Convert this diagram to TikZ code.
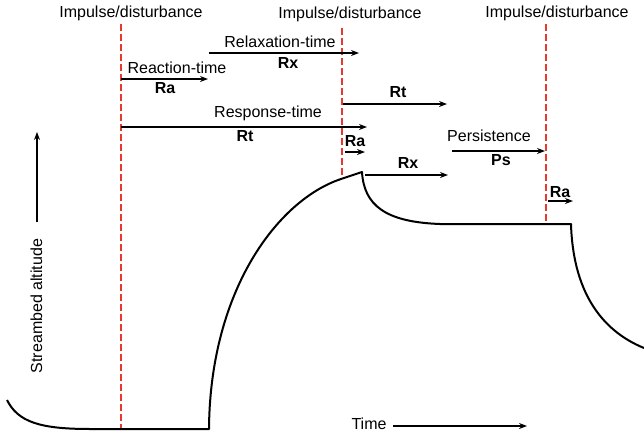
\documentclass[tikz,border=0pt]{standalone}
\usepackage{fontspec}
\setmainfont{Liberation Sans}
\usetikzlibrary{arrows.meta,positioning}
\definecolor{impred}{RGB}{232,58,44}

\begin{document}
\begin{tikzpicture}
			[x=0.75pt,y=-0.75pt,>={Stealth[length=6pt,width=4.5pt]},
			impulse/.style={draw=impred,line width=1.3pt,dash pattern=on 5pt off 2.5pt},
			span/.style={->,line width=1.1pt},
			profile/.style={line width=1.5pt,line join=round},
			txt/.style={anchor=base,inner sep=0pt,font=\fontsize{12}{14}\selectfont},
			code/.style={anchor=base,inner sep=0pt,font=\fontsize{12}{14}\selectfont\bfseries}]

			\useasboundingbox (0,0) rectangle (644,436);

			% impulses
			\node [txt](imp1) at (131,17) {Impulse/disturbance};
			\node [txt](imp2) at (350,18) {Impulse/disturbance};
			\node [txt](imp3) at (557,17) {Impulse/disturbance};
				\coordinate (i1t) at (121,24);  \coordinate (i1b) at (121,429);
				\coordinate (i2t) at (342,28);  \coordinate (i2b) at (342,179);
				\coordinate (i3t) at (546,24);  \coordinate (i3b) at (546,221);
			\draw [impulse] (i1t) -- (i1b);
			\draw [impulse] (i2t) -- (i2b);
			\draw [impulse] (i3t) -- (i3b);

			% first impulse
			\node [txt](reacttxt) at (177,73)  {Reaction-time};
			\node [code](ra1)     at (165,93)  {Ra};
				\coordinate (ra1s) at (121,79);  \coordinate (ra1e) at (208,79);
			\draw [span] (ra1s) -- (ra1e);

			\node [txt](relaxtxt) at (280,47)  {Relaxation-time};
			\node [code](rx1)     at (288,68)  {Rx};
				\coordinate (rx1s) at (209,53);  \coordinate (rx1e) at (359,53);
			\draw [span] (rx1s) -- (rx1e);

			\node [txt](resptxt)  at (268,117) {Response-time};
			\node [code](rt1)     at (245,141) {Rt};
				\coordinate (rt1s) at (121,127); \coordinate (rt1e) at (367,127);
			\draw [span] (rt1s) -- (rt1e);

			% second impulse
			\node [code](rt2)     at (398,97)  {Rt};
				\coordinate (rt2s) at (343,104); \coordinate (rt2e) at (447,104);
			\draw [span] (rt2s) -- (rt2e);

			\node [code](ra2)     at (355,146) {Ra};
				\coordinate (ra2s) at (345,152); \coordinate (ra2e) at (365,152);
			\draw [span] (ra2s) -- (ra2e);

			\node [code](rx2)     at (408,168) {Rx};
				\coordinate (rx2s) at (365,175); \coordinate (rx2e) at (448,175);
			\draw [span] (rx2s) -- (rx2e);

			\node [txt](perstxt)  at (489,141) {Persistence};
			\node [code](ps)      at (501,165) {Ps};
				\coordinate (pss) at (452,151);  \coordinate (pse) at (545,151);
			\draw [span] (pss) -- (pse);

			% third impulse
			\node [code](ra3)     at (560,197) {Ra};
				\coordinate (ra3s) at (548,201); \coordinate (ra3e) at (573,201);
			\draw [span] (ra3s) -- (ra3e);

			% axes
			\node [txt,rotate=90](alt) at (42,306) {Streambed altitude};
				\coordinate (alts) at (37,222);  \coordinate (alte) at (37,132);
			\draw [span] (alts) -- (alte);

			\node [txt](time)     at (369,429) {Time};
				\coordinate (times) at (393,426); \coordinate (timee) at (527,426);
			\draw [span] (times) -- (timee);

			% streambed profile
			\draw [profile] (7,400) .. controls (18,422) and (40,429) .. (90,429) -- (209,429)
				.. controls (210,290) and (278,200) .. (341,179) -- (362,172)
				.. controls (364,205) and (385,222) .. (440,224) -- (571,224)
				.. controls (573,290) and (600,330) .. (644,348);
\end{tikzpicture}
\end{document}
